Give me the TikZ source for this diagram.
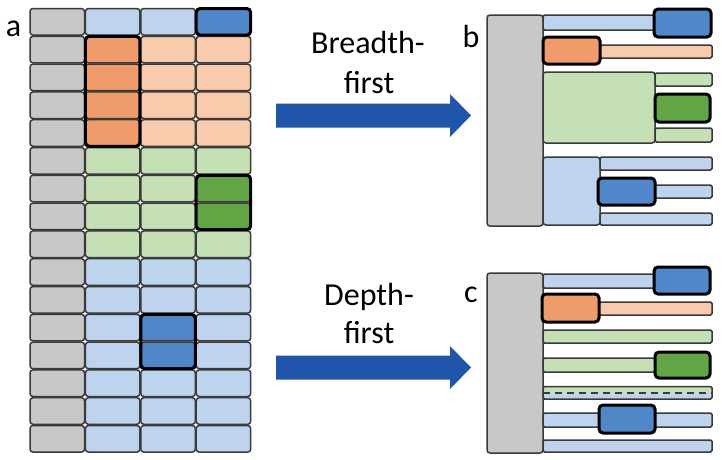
\documentclass[tikz,border=0pt]{standalone}
\usepackage{fontspec}
\setmainfont{Carlito}
\definecolor{cgray}{HTML}{C8C8C8}
\definecolor{clb}{HTML}{BDD3EE}
\definecolor{cdb}{HTML}{4F87C9}
\definecolor{clor}{HTML}{F8CBAD}
\definecolor{cdor}{HTML}{F09C6A}
\definecolor{clg}{HTML}{C5E0B4}
\definecolor{cdg}{HTML}{62A544}
\definecolor{cbord}{HTML}{3A3A3A}
\definecolor{carrow}{HTML}{1F55AB}
\newcommand\gcell[3]{\draw[cell,fill=#3] ({30+55.4*#1},{8.5+27.8*#2}) rectangle ++(54.5,26.6);}
\newcommand\bx[5]{\draw[#5] (#1,#2) rectangle (#3,#4);}
\begin{document}
\begin{tikzpicture}[x={(1pt,0)},y={(0,-1pt)},
  cell/.style={draw=cbord,line width=1.5pt,rounded corners=3pt},
  hl/.style={draw=black,line width=3pt,rounded corners=4pt},
  bar/.style={draw=cbord,line width=1.5pt,rounded corners=1.5pt},
  txt/.style={font=\fontsize{32}{38}\selectfont,anchor=base,inner sep=0pt}]
\useasboundingbox (0,0) rectangle (722,459);
% ---- panel a ----
\foreach \r in {0,...,15} {\gcell{0}{\r}{cgray}}
\foreach \c in {1,2} {\gcell{\c}{0}{clb}}
\gcell{3}{0}{cdb}
\foreach \r in {1,...,4} {\gcell{1}{\r}{cdor}\gcell{2}{\r}{clor}\gcell{3}{\r}{clor}}
\foreach \r in {5,...,8} {\gcell{1}{\r}{clg}\gcell{2}{\r}{clg}}
\foreach \r in {5,8} {\gcell{3}{\r}{clg}}
\foreach \r in {6,7} {\gcell{3}{\r}{cdg}}
\foreach \r in {9,...,15} {\gcell{1}{\r}{clb}\gcell{3}{\r}{clb}}
\foreach \r in {9,10,13,14,15} {\gcell{2}{\r}{clb}}
\foreach \r in {11,12} {\gcell{2}{\r}{cdb}}
\draw[hl] ({30+55.4*3},8.5) rectangle ++(54.5,26.6);
\draw[hl] ({30+55.4},{8.5+27.8}) rectangle ++(54.5,{27.8*3+26.6});
\draw[hl] ({30+55.4*3},{8.5+27.8*6}) rectangle ++(54.5,{27.8+26.6});
\draw[hl] ({30+55.4*2},{8.5+27.8*11}) rectangle ++(54.5,{27.8+26.6});
\node[txt] (la) at (13.5,36) {a};
% ---- arrows ----
\fill[carrow] (276,103.5) -- (450,103.5) -- (450,94) -- (471,115.5) -- (450,137) -- (450,127.5) -- (276,127.5) -- cycle;
\fill[carrow] (276,355.5) -- (450,355.5) -- (450,346) -- (471,367.5) -- (450,389) -- (450,379.5) -- (276,379.5) -- cycle;
\node[txt] (t1) at (368,53) {Breadth-};
\node[txt] (t2) at (369,93) {first};
\node[txt] (t3) at (369,305) {Depth-};
\node[txt] (t4) at (369,343) {first};
% ---- panel b ----
\node[txt] (lb) at (471,47) {b};
\draw[cell,fill=cgray] (487,15) rectangle (543,226);
\bx{543}{15}{655}{30}{bar,fill=clb}
\bx{600}{45}{712}{58}{bar,fill=clor}
\bx{543}{72}{655}{143}{cell,fill=clg}
\bx{655}{73}{712}{86}{bar,fill=clg}
\bx{655}{128}{712}{142}{bar,fill=clg}
\bx{543}{157}{600}{225}{cell,fill=clb}
\bx{600}{157}{712}{170}{bar,fill=clb}
\bx{655}{185}{712}{198}{bar,fill=clb}
\bx{600}{213}{712}{225}{bar,fill=clb}
\bx{654}{9}{711}{37}{hl,fill=cdb}
\bx{543}{37}{600}{64}{hl,fill=cdor}
\bx{655}{94}{710}{122}{hl,fill=cdg}
\bx{598}{178}{655}{205}{hl,fill=cdb}
% ---- panel c ----
\node[txt] (lc) at (471,302) {c};
\draw[cell,fill=cgray] (487,273) rectangle (543,453);
\bx{543}{274}{655}{288}{bar,fill=clb}
\bx{599}{302}{712}{315}{bar,fill=clor}
\bx{543}{330}{712}{343}{bar,fill=clg}
\bx{543}{358}{655}{372}{bar,fill=clg}
\fill[clg] (543,386.5) rectangle (712,392.5);
\fill[clb] (543,392.5) rectangle (712,399);
\draw[cbord,line width=2pt,dash pattern=on 7pt off 5pt] (543,392.5) -- (712,392.5);
\bx{543}{386.5}{712}{399}{bar}
\bx{543}{413}{712}{427}{bar,fill=clb}
\bx{543}{440}{712}{452}{bar,fill=clb}
\bx{654}{267}{710}{294}{hl,fill=cdb}
\bx{542}{294}{599}{322}{hl,fill=cdor}
\bx{655}{352}{710}{378}{hl,fill=cdg}
\bx{599}{405}{655}{433}{hl,fill=cdb}
\end{tikzpicture}
\end{document}
